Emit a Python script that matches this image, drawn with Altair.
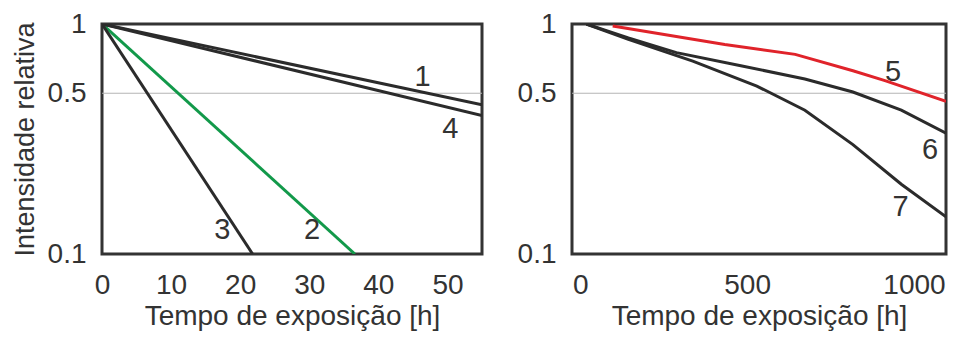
import altair as alt
import pandas as pd

# ---------------- data ----------------
# Left panel (time in hours, relative intensity)
left_series = ["1", "2", "3", "4"]
left_x = {
    "1": [0, 55],
    "2": [0, 36.6],
    "3": [0, 21.8],
    "4": [0, 55],
}
left_y = {
    "1": [1.0, 0.445],
    "2": [1.0, 0.1],
    "3": [1.0, 0.1],
    "4": [1.0, 0.40],
}
left_colors = ["#2b2b2b", "#12994a", "#2b2b2b", "#2b2b2b"]
left_label_x = [46.4, 30.4, 17.4, 50.4]
left_label_y = [0.586, 0.127, 0.127, 0.35]

# Right panel
right_series = ["5", "6", "7"]
right_x = {
    "5": [97, 433, 644, 817, 913, 1096],
    "6": [18, 144, 288, 481, 673, 817, 962, 1096],
    "7": [18, 144, 337, 529, 673, 817, 962, 1096],
}
right_y = {
    "5": [0.98, 0.815, 0.738, 0.626, 0.567, 0.461],
    "6": [1.0, 0.87, 0.751, 0.658, 0.577, 0.506, 0.422, 0.335],
    "7": [1.0, 0.857, 0.69, 0.537, 0.422, 0.299, 0.201, 0.145],
}
right_colors = ["#e0232a", "#2b2b2b", "#2b2b2b"]
right_label_x = [937, 1048, 960]
right_label_y = [0.62, 0.284, 0.16]

y_ticks = [0.1, 0.5, 1]
left_x_ticks = [0, 10, 20, 30, 40, 50]
right_x_ticks = [0, 500, 1000]
ref_value = 0.5

x_title = "Tempo de exposição [h]"
y_title = "Intensidade relativa"

FONT = "Liberation Sans"
TXT = "#333333"


def lines_df(series, xs, ys, colors):
    rows = []
    for s, c in zip(series, colors):
        for xv, yv in zip(xs[s], ys[s]):
            rows.append({"s": s, "x": xv, "y": yv, "c": c})
    return pd.DataFrame(rows)


def panel(series, xs, ys, colors, lx, ly, xdomain, xticks, ytitle, width):
    df = lines_df(series, xs, ys, colors)
    lab = pd.DataFrame({"s": series, "x": lx, "y": ly})
    xscale = alt.Scale(domain=xdomain, nice=False, zero=False)
    yscale = alt.Scale(type="log", domain=[0.1, 1], nice=False)
    yaxis = alt.Axis(values=y_ticks, format="~g", ticks=False, domain=False,
                     grid=False, labelFontSize=28, labelPadding=16,
                     title=ytitle, titleFontSize=27, titleFontWeight="normal",
                     titlePadding=8, labelColor=TXT, titleColor=TXT,
                     labelFont=FONT, titleFont=FONT)
    xaxis = alt.Axis(values=xticks, format="d", ticks=False, domain=False,
                     grid=False, labelFontSize=28, labelPadding=17,
                     title=x_title, titleFontSize=28, titleFontWeight="normal",
                     titlePadding=3, labelColor=TXT, titleColor=TXT,
                     labelFont=FONT, titleFont=FONT, labelFlush=False)

    rule = alt.Chart(pd.DataFrame({"v": [ref_value]})).mark_rule(
        color="#b5b5b5", strokeWidth=1.2
    ).encode(y=alt.Y("v:Q", scale=yscale, axis=yaxis))

    lines = alt.Chart(df).mark_line(strokeWidth=3, clip=True).encode(
        x=alt.X("x:Q", scale=xscale, axis=xaxis),
        y=alt.Y("y:Q", scale=yscale, axis=yaxis),
        color=alt.Color("c:N", scale=None, legend=None),
        detail="s:N",
    )

    texts = alt.Chart(lab).mark_text(fontSize=29, font=FONT, color=TXT,
                                     baseline="middle", align="center").encode(
        x=alt.X("x:Q", scale=xscale),
        y=alt.Y("y:Q", scale=yscale),
        text="s:N",
    )
    return alt.layer(rule, lines, texts).properties(width=width, height=230)


left = panel(left_series, left_x, left_y, left_colors, left_label_x, left_label_y,
             [0, 55], left_x_ticks, y_title, 380)
right = panel(right_series, right_x, right_y, right_colors, right_label_x, right_label_y,
              [-25, 1096], right_x_ticks, None, 374)

chart = alt.hconcat(left, right, spacing=30).properties(
    padding={"left": 1, "top": 0, "right": 0, "bottom": 0},
    background="white",
).configure_view(
    stroke="#333333", strokeWidth=3
)

chart.save("out.html", embed_options={"renderer": "svg", "actions": False})
